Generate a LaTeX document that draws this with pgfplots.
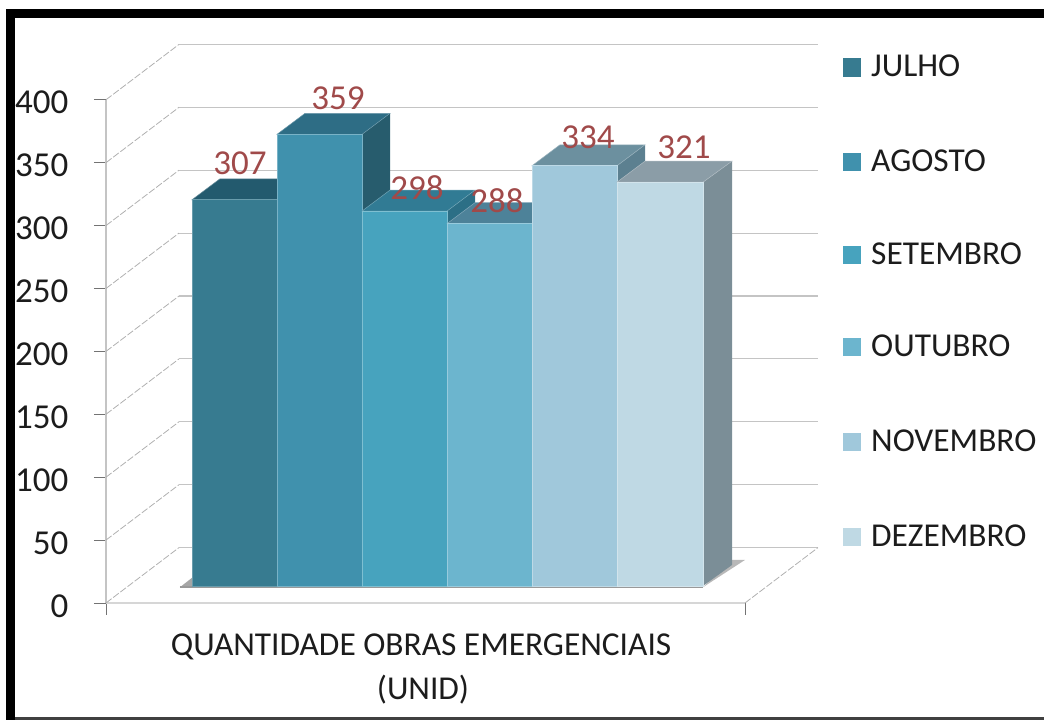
\documentclass[border=0pt]{standalone}
\usepackage{pgfplots}
\pgfplotsset{compat=1.18}
\usepackage{fontspec}
\setmainfont{Carlito}
\definecolor{f1}{HTML}{377B90}\definecolor{t1}{HTML}{235A6E}\definecolor{s1}{HTML}{235A6E}
\definecolor{f2}{HTML}{4091AD}\definecolor{t2}{HTML}{2E6D85}\definecolor{s2}{HTML}{275C6D}
\definecolor{f3}{HTML}{47A3BE}\definecolor{t3}{HTML}{317B94}\definecolor{s3}{HTML}{2C6F86}
\definecolor{f4}{HTML}{6CB5CE}\definecolor{t4}{HTML}{4D8299}\definecolor{s4}{HTML}{457388}
\definecolor{f5}{HTML}{A0C8DB}\definecolor{t5}{HTML}{6C909F}\definecolor{s5}{HTML}{5C8090}
\definecolor{f6}{HTML}{BFD9E4}\definecolor{t6}{HTML}{8B9DA7}\definecolor{s6}{HTML}{7B8E97}
\definecolor{gridc}{HTML}{C4C4C4}
\definecolor{labc}{HTML}{A04A4A}
\definecolor{txt}{HTML}{1C1C1C}
\newcommand{\bigf}{\fontsize{33.4}{40}\selectfont}
\newcommand{\tickf}{\fontsize{35}{42}\selectfont}
\begin{document}
\begin{tikzpicture}
\begin{axis}[
  scale only axis, width=639pt, height=503.2pt,
  xmin=106, xmax=745, ymin=0, ymax=400,
  clip=false,
  axis x line*=bottom, axis y line*=left,
  x axis line style={draw=gridc!70!white,line width=1.6pt,-},
  y axis line style={draw=gridc,line width=1.2pt,-},
  xtick={106,745}, xticklabels={},
  ytick={0,50,100,150,200,250,300,350,400},
  tick align=outside, major tick length=12pt,
  tick style={draw=black!55,line width=0.9pt},
  /pgf/number format/assume math mode=true,
  tick label style={font=\tickf,text=txt},
  yticklabel style={xshift=-22pt,yshift=-3pt},
]
% back wall grid
\addplot[gridc,line width=1.1pt,forget plot] coordinates {(179,44)(818,44)};
\addplot[gridc,line width=1.1pt,forget plot] coordinates {(179,94)(818,94)};
\addplot[gridc,line width=1.1pt,forget plot] coordinates {(179,144)(818,144)};
\addplot[gridc,line width=1.1pt,forget plot] coordinates {(179,194)(818,194)};
\addplot[gridc,line width=1.1pt,forget plot] coordinates {(179,244)(818,244)};
\addplot[gridc,line width=1.1pt,forget plot] coordinates {(179,294)(818,294)};
\addplot[gridc,line width=1.1pt,forget plot] coordinates {(179,344)(818,344)};
\addplot[gridc,line width=1.1pt,forget plot] coordinates {(179,394)(818,394)};
\addplot[gridc,line width=1.1pt,forget plot] coordinates {(179,444)(818,444)};
% diagonals
\addplot[gridc!90!black,dash pattern=on 7pt off 2pt,line width=.8pt,forget plot] coordinates {(106,0)(179,44)};
\addplot[gridc!90!black,dash pattern=on 7pt off 2pt,line width=.8pt,forget plot] coordinates {(106,50)(179,94)};
\addplot[gridc!90!black,dash pattern=on 7pt off 2pt,line width=.8pt,forget plot] coordinates {(106,100)(179,144)};
\addplot[gridc!90!black,dash pattern=on 7pt off 2pt,line width=.8pt,forget plot] coordinates {(106,150)(179,194)};
\addplot[gridc!90!black,dash pattern=on 7pt off 2pt,line width=.8pt,forget plot] coordinates {(106,200)(179,244)};
\addplot[gridc!90!black,dash pattern=on 7pt off 2pt,line width=.8pt,forget plot] coordinates {(106,250)(179,294)};
\addplot[gridc!90!black,dash pattern=on 7pt off 2pt,line width=.8pt,forget plot] coordinates {(106,300)(179,344)};
\addplot[gridc!90!black,dash pattern=on 7pt off 2pt,line width=.8pt,forget plot] coordinates {(106,350)(179,394)};
\addplot[gridc!90!black,dash pattern=on 7pt off 2pt,line width=.8pt,forget plot] coordinates {(106,400)(179,444)};
\addplot[gridc!90!black,dash pattern=on 7pt off 2pt,line width=.8pt,forget plot] coordinates {(745,0)(818,44)};
% floor shadow
\addplot[fill=black!35,draw=none,forget plot] coordinates {(180,12.5)(192,20)(192,12.5)} -- cycle;
\addplot[fill=black!28,draw=none,forget plot] coordinates {(703,12.5)(745,34.2)(732,34.2)} -- cycle;
\addplot[black!40,line width=1.5pt,forget plot] coordinates {(180,12.5)(703,12.5)};
% JULHO 307
\addplot[fill=s1,draw=none,forget plot] coordinates {(277,13.5)(305,30.2)(305,337.2)(277,320.5)} -- cycle;
\addplot[fill=t1,draw=t1!70!white,line width=.5pt,forget plot] coordinates {(192,320.5)(277,320.5)(305,337.2)(220,337.2)} -- cycle;
\addplot[fill=f1,draw=f1!75!white,line width=.7pt,forget plot] coordinates {(192,13.5)(277,13.5)(277,320.5)(192,320.5)} -- cycle;
% AGOSTO 359
\addplot[fill=s2,draw=none,forget plot] coordinates {(362,13.5)(390,30.2)(390,389.2)(362,372.5)} -- cycle;
\addplot[fill=t2,draw=t2!70!white,line width=.5pt,forget plot] coordinates {(277,372.5)(362,372.5)(390,389.2)(305,389.2)} -- cycle;
\addplot[fill=f2,draw=f2!70!white,line width=.8pt,forget plot] coordinates {(277,13.5)(362,13.5)(362,372.5)(277,372.5)} -- cycle;
% SETEMBRO 298
\addplot[fill=s3,draw=none,forget plot] coordinates {(447,13.5)(475,30.2)(475,328.2)(447,311.5)} -- cycle;
\addplot[fill=t3,draw=t3!70!white,line width=.5pt,forget plot] coordinates {(362,311.5)(447,311.5)(475,328.2)(390,328.2)} -- cycle;
\addplot[fill=f3,draw=f3!70!white,line width=.8pt,forget plot] coordinates {(362,13.5)(447,13.5)(447,311.5)(362,311.5)} -- cycle;
% OUTUBRO 288
\addplot[fill=s4,draw=none,forget plot] coordinates {(532,13.5)(560,30.2)(560,318.2)(532,301.5)} -- cycle;
\addplot[fill=t4,draw=t4!70!white,line width=.5pt,forget plot] coordinates {(447,301.5)(532,301.5)(560,318.2)(475,318.2)} -- cycle;
\addplot[fill=f4,draw=f4!70!white,line width=.8pt,forget plot] coordinates {(447,13.5)(532,13.5)(532,301.5)(447,301.5)} -- cycle;
% NOVEMBRO 334
\addplot[fill=s5,draw=none,forget plot] coordinates {(617,13.5)(645,30.2)(645,364.2)(617,347.5)} -- cycle;
\addplot[fill=t5,draw=t5!70!white,line width=.5pt,forget plot] coordinates {(532,347.5)(617,347.5)(645,364.2)(560,364.2)} -- cycle;
\addplot[fill=f5,draw=f5!70!white,line width=.8pt,forget plot] coordinates {(532,13.5)(617,13.5)(617,347.5)(532,347.5)} -- cycle;
% DEZEMBRO 321
\addplot[fill=s6,draw=none,forget plot] coordinates {(703,13.5)(732,30.2)(732,351.2)(703,334.5)} -- cycle;
\addplot[fill=t6,draw=t6!70!white,line width=.5pt,forget plot] coordinates {(617,334.5)(703,334.5)(732,351.2)(645,351.2)} -- cycle;
\addplot[fill=f6,draw=f6!70!white,line width=.8pt,forget plot] coordinates {(617,13.5)(703,13.5)(703,334.5)(617,334.5)} -- cycle;
% data labels
\node[text=labc,font=\tickf] at (axis cs:240,349.7) {307};
\node[text=labc,font=\tickf] at (axis cs:338,401.4) {359};
\node[text=labc,font=\tickf] at (axis cs:417,330) {298};
\node[text=labc,font=\tickf] at (axis cs:497,319.6) {288};
\node[text=labc,font=\tickf] at (axis cs:588,370.4) {334};
\node[text=labc,font=\tickf] at (axis cs:684,362.5) {321};
% legend keys
\addplot[fill=f1,draw=none,forget plot] coordinates {(843,418.4)(861,418.4)(861,432.8)(843,432.8)} -- cycle;
\addplot[fill=f2,draw=none,forget plot] coordinates {(843,343.7)(861,343.7)(861,358)(843,358)} -- cycle;
\addplot[fill=f3,draw=none,forget plot] coordinates {(843,269.7)(861,269.7)(861,284)(843,284)} -- cycle;
\addplot[fill=f4,draw=none,forget plot] coordinates {(843,196.6)(861,196.6)(861,211)(843,211)} -- cycle;
\addplot[fill=f5,draw=none,forget plot] coordinates {(843,121)(861,121)(861,135.4)(843,135.4)} -- cycle;
\addplot[fill=f6,draw=none,forget plot] coordinates {(843,45.5)(861,45.5)(861,59.9)(843,59.9)} -- cycle;
\node[anchor=west,inner sep=0pt,text=txt,font=\bigf] at (axis cs:871,427) {JULHO};
\node[anchor=west,inner sep=0pt,text=txt,font=\bigf] at (axis cs:871,351.5) {AGOSTO};
\node[anchor=west,inner sep=0pt,text=txt,font=\bigf] at (axis cs:871,277.5) {SETEMBRO};
\node[anchor=west,inner sep=0pt,text=txt,font=\bigf] at (axis cs:871,204.5) {OUTUBRO};
\node[anchor=west,inner sep=0pt,text=txt,font=\bigf] at (axis cs:871,129) {NOVEMBRO};
\node[anchor=west,inner sep=0pt,text=txt,font=\bigf] at (axis cs:871,53.5) {DEZEMBRO};
% axis title
\node[text=txt,font=\bigf,anchor=center] at (axis cs:421,-35) {QUANTIDADE OBRAS EMERGENCIAIS};
\node[text=txt,font=\bigf,anchor=center] at (axis cs:423,-69) {(UNID)};
% frame
\fill[black] (axis cs:6,479.3-7.2) rectangle (axis cs:1044,479.3-14.3);
\fill[black] (axis cs:6,479.3-7.2) rectangle (axis cs:15,-93);
\fill[black!75] (axis cs:15,-90.6) rectangle (axis cs:1044,-93);
\path (axis cs:0,479.3) rectangle (axis cs:1044,-93);
\end{axis}
\end{tikzpicture}
\end{document}
